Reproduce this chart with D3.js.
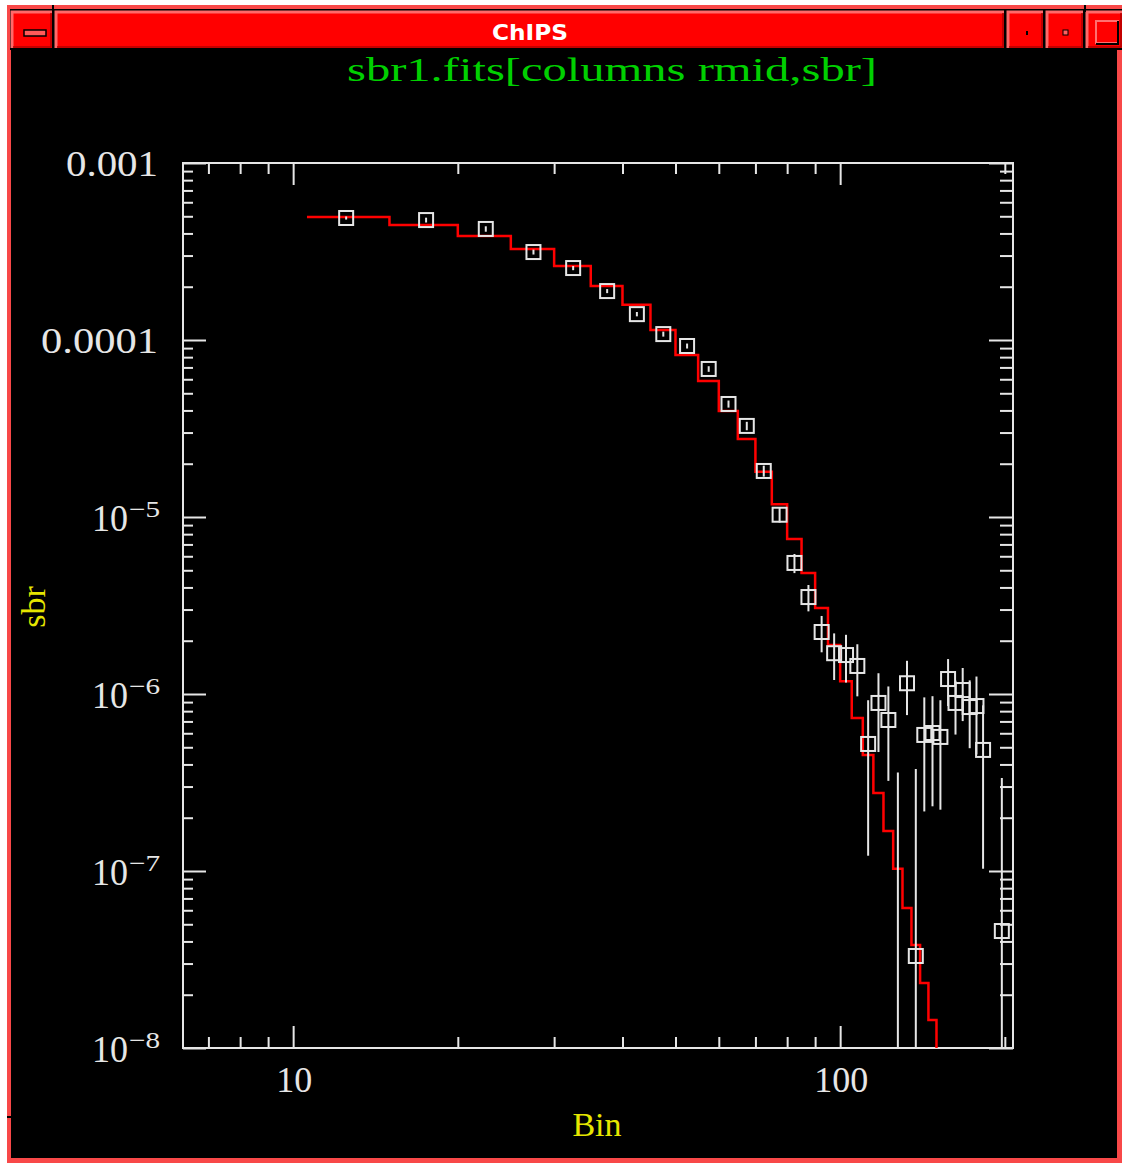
<!DOCTYPE html>
<html>
<head>
<meta charset="utf-8">
<script src="https://cdn.jsdelivr.net/npm/d3@7"></script>
<style>
  body { margin: 0; background: #fff; }
  svg { display: block; }
</style>
</head>
<body>
<svg id="chips" width="1122" height="1163"></svg>
<script>
// radial profile: bin midpoints, surface brightness and 1-sigma errors
var rmid = [12.5, 17.5, 22.5, 27.5, 32.5, 37.5, 42.5, 47.5, 52.5, 57.5,
            62.5, 67.5, 72.5, 77.5, 82.5, 87.5, 92.5, 97.5, 102.5, 107.5,
            112.5, 117.5, 122.5, 127.5, 132.5, 137.5, 142.5, 147.5, 152.5, 157.5,
            162.5, 167.5, 172.5, 177.5, 182.5, 197.5];
var sbr = [4.89e-4, 4.76e-4, 4.24e-4, 3.14e-4, 2.55e-4, 1.89e-4, 1.40e-4, 1.08e-4, 9.25e-5, 6.86e-5,
           4.35e-5, 3.27e-5, 1.82e-5, 1.03e-5, 5.50e-6, 3.53e-6, 2.24e-6, 1.70e-6, 1.66e-6, 1.44e-6,
           5.22e-7, 8.90e-7, 7.13e-7, 0, 1.15e-6, 3.31e-8, 5.87e-7, 6.02e-7, 5.72e-7, 1.215e-6,
           8.90e-7, 1.053e-6, 8.44e-7, 8.55e-7, 4.83e-7, 4.58e-8];
var sbrErr = [1.0e-5, 1.5e-5, 1.5e-5, 1.0e-5, 7e-6, 5e-6, 4e-6, 3.5e-6, 3e-6, 2.5e-6,
              2e-6, 1.8e-6, 1.3e-6, 1.0e-6, 6.8e-7, 6.0e-7, 5.2e-7, 5.0e-7, 5.0e-7, 4.7e-7,
              4.0e-7, 4.2e-7, 3.9e-7, 3.6e-7, 3.9e-7, 3.44e-7, 3.7e-7, 3.7e-7, 3.5e-7, 3.6e-7,
              3.0e-7, 3.5e-7, 3.5e-7, 4.0e-7, 3.8e-7, 2.9e-7];

// fitted model, one value per bin starting at each lower edge
var modelEdges = [10.6, 15, 20, 25, 30, 35, 40, 45, 50, 55, 60, 65, 70, 75, 80,
                  85, 90, 95, 100, 105, 110, 115, 120, 125, 130, 135, 140, 145, 150, 155];
var modelVals = [4.95e-4, 4.47e-4, 3.87e-4, 3.27e-4, 2.62e-4, 2.02e-4, 1.58e-4, 1.14e-4, 8.22e-5, 5.86e-5,
                 3.97e-5, 2.76e-5, 1.80e-5, 1.18e-5, 7.51e-6, 4.83e-6, 3.06e-6, 1.89e-6, 1.18e-6, 7.31e-7,
                 4.52e-7, 2.76e-7, 1.68e-7, 1.03e-7, 6.18e-8, 3.82e-8, 2.33e-8, 1.44e-8, 8.9e-9, 8.9e-9];

var xMajor = [10, 100];
var xMinor = [7, 8, 9, 20, 30, 40, 50, 60, 70, 80, 90, 200];
var yMajor = [1e-3, 1e-4, 1e-5, 1e-6, 1e-7, 1e-8];
var yLabels = [["0.001"], ["0.0001"], ["10", "\u22125"], ["10", "\u22126"], ["10", "\u22127"], ["10", "\u22128"]];
var xLabels = ["10", "100"];

var svg = d3.select("#chips");
var fg = "#e6e6e6";

// ---- window frame ----
svg.append("rect").attr("width", 1122).attr("height", 1163).attr("fill", "#fff");
svg.append("rect").attr("x", 7).attr("y", 5).attr("width", 1115).attr("height", 1158).attr("fill", "#f84848");
svg.append("rect").attr("x", 11).attr("y", 50).attr("width", 1106).attr("height", 1108).attr("fill", "#000");
svg.append("rect").attr("x", 10).attr("y", 9).attr("width", 1112).attr("height", 41).attr("fill", "#000");

function button(x, y, w, h) {
    var g = svg.append("g");
    g.append("rect").attr("x", x).attr("y", y).attr("width", w).attr("height", h).attr("fill", "#ff0000");
    g.append("path").attr("d", "M" + x + "," + (y + h) + "V" + y + "H" + (x + w))
        .attr("fill", "none").attr("stroke", "#ff6a6a").attr("stroke-width", 3);
    g.append("path").attr("d", "M" + (x + 1) + "," + (y + h - 1) + "H" + (x + w - 1) + "V" + (y + 1))
        .attr("fill", "none").attr("stroke", "#b00000").attr("stroke-width", 1.5);
    return g;
}
button(12, 12, 40, 36);
button(56, 12, 948, 36);
button(1008, 12, 35, 36);
button(1047, 12, 36, 36);
button(1087, 12, 35, 36);

// minimize bar, dots and maximize box
svg.append("rect").attr("x", 24).attr("y", 30).attr("width", 22).attr("height", 6)
    .attr("fill", "#ff5a5a").attr("stroke", "#000").attr("stroke-width", 1.5);
svg.append("rect").attr("x", 1026).attr("y", 31).attr("width", 2).attr("height", 4).attr("fill", "#000");
svg.append("rect").attr("x", 1063).attr("y", 30).attr("width", 5).attr("height", 5)
    .attr("fill", "#ff6060").attr("stroke", "#000").attr("stroke-width", 1);
svg.append("rect").attr("x", 1096).attr("y", 21).attr("width", 22).attr("height", 22)
    .attr("fill", "none").attr("stroke", "#ff7070").attr("stroke-width", 2);
svg.append("path").attr("d", "M1118,21V44H1096").attr("fill", "none").attr("stroke", "#000").attr("stroke-width", 2);

svg.append("text").attr("x", 530).attr("y", 40)
    .attr("text-anchor", "middle").attr("fill", "#fff")
    .attr("font-family", "DejaVu Sans").attr("font-weight", "bold").attr("font-size", 21)
    .attr("textLength", 76).attr("lengthAdjust", "spacingAndGlyphs")
    .text("ChIPS");

// resize notches on the frame
svg.append("path").attr("d", "M53,5V12M1085,5V12M7,1117H11")
    .attr("stroke", "#000").attr("stroke-width", 2);

// ---- plot ----
var x = d3.scaleLog().domain([6.29, 207]).range([183, 1013]);
var y = d3.scaleLog().domain([1e-8, 1e-3]).range([1048, 163]);

svg.append("text").attr("x", 612).attr("y", 81)
    .attr("text-anchor", "middle").attr("fill", "#00d000")
    .attr("font-family", "Liberation Serif").attr("font-size", 33)
    .attr("textLength", 530).attr("lengthAdjust", "spacingAndGlyphs")
    .text("sbr1.fits[columns rmid,sbr]");

svg.append("defs").append("clipPath").attr("id", "plotclip")
    .append("rect").attr("x", 183).attr("y", 163).attr("width", 830).attr("height", 885);

function drawAxis(axis, tx, ty) {
    var g = svg.append("g").attr("transform", "translate(" + tx + "," + ty + ")").call(axis);
    g.select(".domain").remove();
    g.selectAll(".tick line").attr("stroke", fg).attr("stroke-width", 2);
    g.selectAll(".tick text").remove();
}
drawAxis(d3.axisBottom(x).tickValues(xMajor).tickSize(-22), 0, 1048);
drawAxis(d3.axisBottom(x).tickValues(xMinor).tickSize(-11), 0, 1048);
drawAxis(d3.axisTop(x).tickValues(xMajor).tickSize(-22), 0, 163);
drawAxis(d3.axisTop(x).tickValues(xMinor).tickSize(-11), 0, 163);

var yMinor = [];
yMajor.slice(1).forEach(function (d) {
    for (var k = 2; k <= 9; k++) yMinor.push(d * k);
});
drawAxis(d3.axisLeft(y).tickValues(yMajor).tickSize(-23), 183, 0);
drawAxis(d3.axisLeft(y).tickValues(yMinor).tickSize(-10), 183, 0);
drawAxis(d3.axisRight(y).tickValues(yMajor).tickSize(-24), 1013, 0);
drawAxis(d3.axisRight(y).tickValues(yMinor).tickSize(-13), 1013, 0);

svg.append("rect").attr("x", 183).attr("y", 163).attr("width", 830).attr("height", 885)
    .attr("fill", "none").attr("stroke", fg).attr("stroke-width", 2);

// tick labels
yMajor.forEach(function (d, i) {
    var lab = yLabels[i];
    if (lab.length == 1) {
        svg.append("text").attr("x", 158).attr("y", y(d) + 13)
            .attr("text-anchor", "end").attr("fill", fg)
            .attr("font-family", "Liberation Serif").attr("font-size", 36)
            .attr("textLength", lab[0].length == 5 ? 92 : 117).attr("lengthAdjust", "spacingAndGlyphs")
            .text(lab[0]);
    } else {
        svg.append("text").attr("x", 92).attr("y", y(d) + 14)
            .attr("fill", fg).attr("font-family", "Liberation Serif").attr("font-size", 37)
            .attr("textLength", 36).attr("lengthAdjust", "spacingAndGlyphs")
            .text(lab[0]);
        svg.append("text").attr("x", 129).attr("y", y(d))
            .attr("fill", fg).attr("font-family", "Liberation Serif").attr("font-size", 23)
            .attr("textLength", 31).attr("lengthAdjust", "spacingAndGlyphs")
            .text(lab[1]);
    }
});
xMajor.forEach(function (d, i) {
    svg.append("text").attr("x", x(d) + 1).attr("y", 1092)
        .attr("text-anchor", "middle").attr("fill", fg)
        .attr("font-family", "Liberation Serif").attr("font-size", 36)
        .text(xLabels[i]);
});

// axis titles
svg.append("text").attr("x", 597).attr("y", 1136)
    .attr("text-anchor", "middle").attr("fill", "#e6e600")
    .attr("font-family", "Liberation Serif").attr("font-size", 34)
    .text("Bin");
svg.append("text").attr("transform", "translate(45,607) rotate(-90)")
    .attr("text-anchor", "middle").attr("fill", "#e6e600")
    .attr("font-family", "Liberation Serif").attr("font-size", 34)
    .text("sbr");

// model step line
var plot = svg.append("g").attr("clip-path", "url(#plotclip)");
var modelPts = modelEdges.map(function (e, i) { return [e, modelVals[i]]; });
plot.append("path").datum(modelPts)
    .attr("d", d3.line().curve(d3.curveStepAfter)
        .x(function (d) { return x(d[0]); })
        .y(function (d) { return y(d[1]); }))
    .attr("fill", "none").attr("stroke", "#ff0000").attr("stroke-width", 2.5);

// data: error bars and open squares
var pts = rmid.map(function (r, i) { return { r: r, v: sbr[i], e: sbrErr[i] }; });
plot.selectAll("line.err").data(pts).enter().append("line")
    .attr("class", "err")
    .attr("x1", function (d) { return x(d.r); })
    .attr("x2", function (d) { return x(d.r); })
    .attr("y1", function (d) { return y(d.v + d.e); })
    .attr("y2", function (d) { return d.v - d.e > 0 ? y(d.v - d.e) : 1060; })
    .attr("stroke", fg).attr("stroke-width", 2);
plot.selectAll("rect.pt").data(pts.filter(function (d) { return d.v > 0; })).enter().append("rect")
    .attr("class", "pt")
    .attr("x", function (d) { return x(d.r) - 7; })
    .attr("y", function (d) { return y(d.v) - 7; })
    .attr("width", 14).attr("height", 14)
    .attr("fill", "none").attr("stroke", fg).attr("stroke-width", 2);
</script>
</body>
</html>
